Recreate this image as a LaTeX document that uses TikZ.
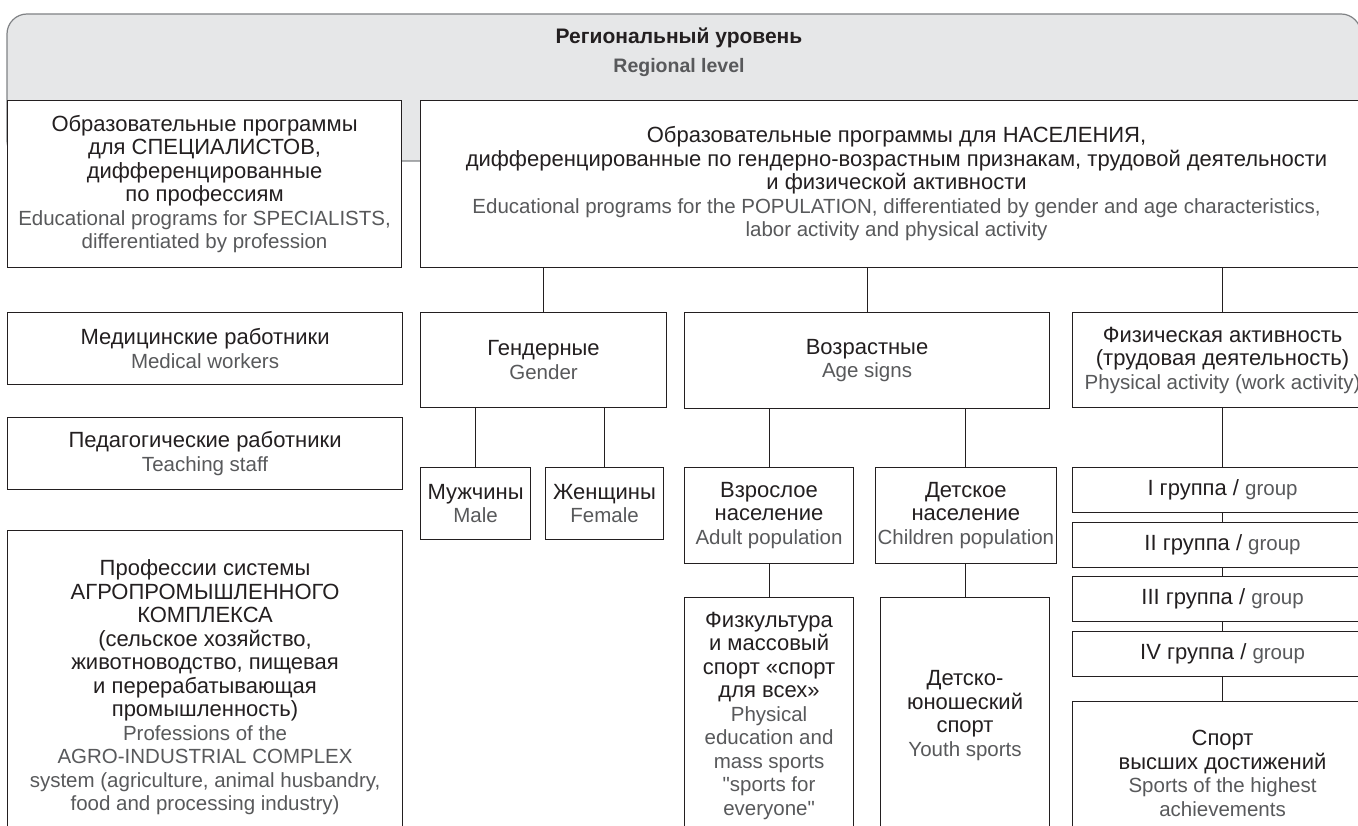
\documentclass[tikz,border=0pt]{standalone}
\usepackage{fontspec}
\setmainfont{Liberation Sans}
\usetikzlibrary{positioning}
\definecolor{ink}{HTML}{231F20}
\definecolor{engl}{HTML}{58595B}
\definecolor{panelfill}{HTML}{E6E7E8}
\definecolor{paneldraw}{HTML}{808285}
\newcommand{\en}[1]{{\color{engl}\fontsize{20.5}{23}\selectfont #1}}

\begin{document}
\begin{tikzpicture}[x=1pt,y=-1pt]
    \tikzset{box/.style={draw=ink, fill=white, line width=1.1pt, align=center, anchor=north west, inner sep=2pt, text=ink, font=\fontsize{22}{23.5}\selectfont}}
    \tikzset{grp/.style={box, minimum width=300, minimum height=45}}
    \tikzset{line/.style={draw=ink, line width=1.1pt}}
    \useasboundingbox (0,0) rectangle (1358,826);
    \clip (0,0) rectangle (1358,826);

    % regional level panel
    \draw[fill=panelfill, draw=paneldraw, line width=1.2pt, rounded corners=20] (7,161) -- (7,14) -- (1361,14) -- (1361,161) -- cycle;
    \node[font=\bfseries\fontsize{21}{23}\selectfont, text=ink] (title) at (679,38) {Региональный уровень};
    \node[font=\bfseries\fontsize{19.5}{23}\selectfont, text=engl] (subtitle) at (679,68) {Regional level};

    \node[box, minimum width=394, minimum height=167] (spec) at (7,100) {Образовательные программы\\ для СПЕЦИАЛИСТОВ,\\ дифференцированные\\ по профессиям\\ \en{Educational programs for SPECIALISTS,}\\ \en{differentiated by profession}};
    \node[box, minimum width=952, minimum height=167] (pop) at (420,100) {Образовательные программы для НАСЕЛЕНИЯ,\\ дифференцированные по гендерно-возрастным признакам, трудовой деятельности\\ и физической активности\\ \en{Educational programs for the POPULATION, differentiated by gender and age characteristics,}\\ \en{labor activity and physical activity}};

    % specialists
    \node[box, minimum width=395, minimum height=72] (med) at (7,312) {Медицинские работники\\ \en{Medical workers}};
    \node[box, minimum width=395, minimum height=72] (ped) at (7,417) {Педагогические работники\\ \en{Teaching staff}};
    \node[box, minimum width=395, minimum height=314] (agro) at (7,530) {Профессии системы\\ АГРОПРОМЫШЛЕННОГО\\ КОМПЛЕКСА\\ (сельское хозяйство,\\ животноводство, пищевая\\ и перерабатывающая\\ промышленность)\\ \en{Professions of the}\\ \en{AGRO-INDUSTRIAL COMPLEX}\\ \en{system (agriculture, animal husbandry,}\\ \en{food and processing industry)}};

    % population
    \node[box, minimum width=246, minimum height=95] (gen) at (420,312) {Гендерные\\ \en{Gender}};
    \node[box, minimum width=365, minimum height=96] (age) at (684,312) {Возрастные\\ \en{Age signs}};
    \node[box, minimum width=300, minimum height=95] (phys) at (1072,312) {Физическая активность\\ (трудовая деятельность)\\ \en{Physical activity (work activity)}};

    \node[box, minimum width=110, minimum height=72] (male) at (420,467) {Мужчины\\ \en{Male}};
    \node[box, minimum width=118, minimum height=72] (fem) at (545,467) {Женщины\\ \en{Female}};

    \node[box, minimum width=169, minimum height=96] (adult) at (684,467) {Взрослое\\ население\\ \en{Adult population}};
    \node[box, minimum width=174, minimum height=96] (child) at (875,467) {Детское\\ население\\ \en{Children population}};
    \node[box, minimum width=169, minimum height=236] (mass) at (684,597) {Физкультура\\ и массовый\\ спорт «спорт\\ для всех»\\ \en{Physical}\\ \en{education and}\\ \en{mass sports}\\ \en{\textquotedbl sports for}\\ \en{everyone\textquotedbl}};
    \node[box, minimum width=169, minimum height=236] (youth) at (880,597) {Детско-\\ юношеский\\ спорт\\ \en{Youth sports}};

    \node[grp] (g1) at (1072,467) {I группа / \en{group}};
    \node[grp, below=8.5pt of g1] (g2) {II группа / \en{group}};
    \node[grp, below=8.5pt of g2] (g3) {III группа / \en{group}};
    \node[grp, below=8.5pt of g3] (g4) {IV группа / \en{group}};
    \node[box, minimum width=300, minimum height=144] (elite) at (1072,701) {Спорт\\ высших достижений\\ \en{Sports of the highest}\\ \en{achievements}};

    \path[line] (gen.north) -- (gen.north |- pop.south);
    \path[line] (age.north) -- (age.north |- pop.south);
    \path[line] (phys.north) -- (phys.north |- pop.south);

    \path[line] (male.north) -- (male.north |- gen.south);
    \path[line] (fem.north) -- (fem.north |- gen.south);
    \path[line] (adult.north) -- (adult.north |- age.south);
    \path[line] (child.north) -- (child.north |- age.south);
    \path[line] (adult.south) -- (mass.north);
    \path[line] (child.south) -- (child.south |- youth.north);

    \path[line] (phys.south) -- (g1.north);
    \path[line] (g1.south) -- (g2.north);
    \path[line] (g2.south) -- (g3.north);
    \path[line] (g3.south) -- (g4.north);
    \path[line] (g4.south) -- (elite.north);
\end{tikzpicture}
\end{document}
